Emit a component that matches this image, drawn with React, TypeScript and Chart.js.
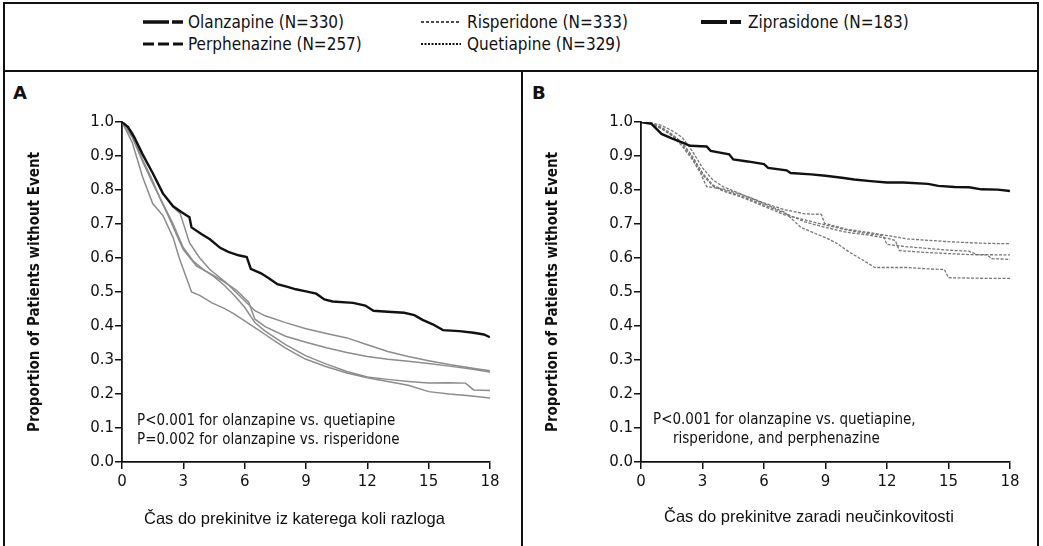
import React, { useEffect, useRef } from "react";
import { Chart, registerables } from "chart.js";

Chart.register(...registerables);

// ---------- ticks ----------
const X_TICKS = [0, 3, 6, 9, 12, 15, 18];
const X_TICK_LABELS = ["0", "3", "6", "9", "12", "15", "18"];
const Y_TICKS = [0, 0.1, 0.2, 0.3, 0.4, 0.5, 0.6, 0.7, 0.8, 0.9, 1.0];
const Y_TICK_LABELS = ["0.0", "0.1", "0.2", "0.3", "0.4", "0.5", "0.6", "0.7", "0.8", "0.9", "1.0"];

// ---------- legend ----------
const LEGEND_LABELS = [
  "Olanzapine (N=330)",
  "Risperidone (N=333)",
  "Ziprasidone (N=183)",
  "Perphenazine (N=257)",
  "Quetiapine (N=329)",
];

// ---------- Panel A: time to discontinuation for any cause ----------
const olzA_t = [0, 0.3, 0.6, 1.0, 1.5, 2.0, 2.5, 2.9, 3.3, 3.4, 3.9, 4.3, 4.8, 5.2, 5.7, 6.1, 6.3, 6.8, 7.2, 7.6, 8.1, 8.5, 9.0, 9.5, 9.9, 10.3, 11.3, 11.9, 12.3, 13.0, 13.8, 14.3, 14.7, 15.2, 15.7, 16.5, 17.2, 17.7, 18.0];
const olzA_s = [1.0, 0.985, 0.955, 0.905, 0.85, 0.79, 0.752, 0.735, 0.72, 0.69, 0.67, 0.655, 0.63, 0.618, 0.608, 0.603, 0.568, 0.555, 0.54, 0.523, 0.515, 0.508, 0.502, 0.495, 0.478, 0.472, 0.468, 0.46, 0.445, 0.442, 0.439, 0.432, 0.418, 0.405, 0.388, 0.385, 0.38, 0.375, 0.367];

const risA_t = [0, 0.5, 1, 1.5, 2, 2.5, 2.85, 3.3, 3.8, 4.3, 5.1, 5.9, 6.5, 7, 8, 9, 10, 11, 12, 13, 14, 15, 16, 17, 18];
const risA_s = [1, 0.97, 0.91, 0.85, 0.79, 0.75, 0.73, 0.645, 0.6, 0.566, 0.527, 0.48, 0.445, 0.43, 0.41, 0.392, 0.378, 0.365, 0.345, 0.325, 0.31, 0.298, 0.287, 0.277, 0.268];

const perA_t = [0, 0.5, 1, 1.4, 1.9, 2.35, 2.7, 3.0, 3.65, 4.3, 5.0, 5.6, 6.2, 6.5, 7, 8, 9, 10, 11, 12, 13, 14, 15, 16, 17, 18];
const perA_s = [1, 0.96, 0.89, 0.84, 0.77, 0.713, 0.664, 0.625, 0.576, 0.555, 0.53, 0.505, 0.47, 0.42, 0.398, 0.37, 0.352, 0.336, 0.322, 0.31, 0.302, 0.296, 0.29, 0.282, 0.274, 0.265];

const zipA_t = [0, 0.5, 1, 1.5, 2, 2.5, 3, 3.5, 4, 4.5, 5, 5.5, 6, 6.5, 7, 8, 9, 10, 11, 12, 13, 14, 15, 16, 16.8, 17.2, 18];
const zipA_s = [1, 0.955, 0.885, 0.82, 0.76, 0.7, 0.63, 0.59, 0.565, 0.545, 0.52, 0.49, 0.455, 0.41, 0.385, 0.345, 0.312, 0.288, 0.266, 0.25, 0.243, 0.237, 0.232, 0.233, 0.232, 0.212, 0.21];

const queA_t = [0, 0.5, 1, 1.5, 2, 2.5, 2.8, 3.4, 3.8, 4.4, 5, 5.5, 6, 6.5, 7, 7.5, 8, 8.5, 9, 10, 11, 12, 13, 14, 15, 16, 17, 18];
const queA_s = [1, 0.94, 0.84, 0.76, 0.725, 0.66, 0.6, 0.5, 0.49, 0.468, 0.452, 0.435, 0.415, 0.395, 0.375, 0.355, 0.335, 0.318, 0.302, 0.28, 0.262, 0.248, 0.237, 0.226, 0.207, 0.2, 0.195, 0.188];

// ---------- Panel B: time to discontinuation for lack of efficacy ----------
const olzB_t = [0, 0.5, 1.0, 1.5, 2.0, 2.4, 3.2, 3.4, 4.3, 4.5, 5.2, 6.0, 6.2, 7.1, 7.3, 8.3, 9.0, 9.8, 10.4, 11.2, 12.0, 12.8, 14.0, 14.5, 15.3, 16.0, 16.6, 17.4, 18.0];
const olzB_s = [1.0, 0.995, 0.965, 0.952, 0.94, 0.93, 0.928, 0.915, 0.905, 0.89, 0.884, 0.876, 0.865, 0.858, 0.85, 0.846, 0.842, 0.836, 0.831, 0.826, 0.822, 0.822, 0.818, 0.812, 0.809, 0.808, 0.802, 0.801, 0.797];

const zipB_t = [0, 0.5, 1, 1.5, 2, 2.5, 3, 3.5, 4, 5, 6, 7, 8, 8.8, 8.95, 10, 11, 12, 12.5, 13, 14, 15, 16, 17, 18];
const zipB_s = [1, 0.998, 0.99, 0.975, 0.955, 0.915, 0.865, 0.83, 0.81, 0.785, 0.762, 0.742, 0.73, 0.728, 0.702, 0.685, 0.676, 0.666, 0.661, 0.656, 0.652, 0.648, 0.645, 0.643, 0.642];

const perB_t = [0, 0.5, 1, 1.5, 2, 2.5, 3, 3.5, 4, 5, 6, 7, 8, 9, 10, 11, 11.8, 12.0, 13, 14, 15, 16, 16.4, 18];
const perB_s = [1, 0.995, 0.982, 0.962, 0.935, 0.895, 0.845, 0.812, 0.797, 0.777, 0.752, 0.727, 0.712, 0.697, 0.683, 0.672, 0.666, 0.64, 0.633, 0.628, 0.623, 0.62, 0.61, 0.609];

const risB_t = [0, 0.5, 1, 1.5, 2, 2.5, 3, 3.5, 4, 5, 6, 7, 8, 9, 10, 11, 12, 12.4, 12.6, 13, 14, 15, 16, 16.9, 17.1, 18];
const risB_s = [1, 0.996, 0.985, 0.965, 0.94, 0.9, 0.85, 0.815, 0.8, 0.78, 0.756, 0.732, 0.706, 0.69, 0.676, 0.668, 0.658, 0.652, 0.622, 0.62, 0.616, 0.613, 0.61, 0.609, 0.598, 0.596];

const queB_t = [0, 0.5, 1, 1.5, 2, 2.5, 2.9, 3.2, 4, 5, 6, 7, 7.8, 8.5, 9, 9.5, 10.2, 10.8, 11.4, 12, 13, 14, 14.8, 15.0, 16, 17, 18];
const queB_s = [1, 0.995, 0.98, 0.96, 0.93, 0.89, 0.85, 0.81, 0.803, 0.785, 0.76, 0.735, 0.69, 0.672, 0.66, 0.645, 0.616, 0.595, 0.572, 0.572, 0.572, 0.568, 0.566, 0.542, 0.541, 0.54, 0.54];

const Y_TITLE = "Proportion of Patients without Event";

const INK = "#111";
const COND = '"DejaVu Sans Condensed", "DejaVu Sans", sans-serif';

type Series = { t: number[]; s: number[]; kind: "olz" | "grey" };

function toPts(t: number[], s: number[]) {
  return t.map((x, i) => ({ x, y: s[i] }));
}

function KMPanel(props: {
  left: number;
  width: number;
  padLeft: number;
  padRight: number;
  axisX: number;
  series: Series[];
  greyColor: string;
  greyDash: number[];
  greyWidth: number;
}) {
  const ref = useRef<HTMLCanvasElement | null>(null);
  useEffect(() => {
    const canvas = ref.current;
    if (!canvas) return;
    const tickFont = { family: '"DejaVu Sans", sans-serif', size: 15 };
    const chart = new Chart(canvas, {
      type: "line",
      data: {
        datasets: props.series.map((sr) => ({
          data: toPts(sr.t, sr.s),
          borderColor: sr.kind === "olz" ? INK : props.greyColor,
          borderWidth: sr.kind === "olz" ? 2.4 : props.greyWidth,
          borderDash: sr.kind === "olz" ? [] : props.greyDash,
          pointRadius: 0,
          tension: 0,
          fill: false,
        })),
      },
      options: {
        responsive: false,
        animation: false,
        devicePixelRatio: 1,
        layout: { padding: { top: 122, left: props.padLeft, right: props.padRight, bottom: 44 } },
        plugins: { legend: { display: false }, tooltip: { enabled: false }, title: { display: false } },
        scales: {
          x: {
            type: "linear",
            min: 0,
            max: 18,
            afterBuildTicks: (s: any) => {
              s.ticks = X_TICKS.map((v) => ({ value: v }));
            },
            ticks: {
              autoSkip: false,
              maxRotation: 0,
              padding: 4,
              color: INK,
              font: tickFont,
              callback: (_v: any, i: number) => X_TICK_LABELS[i],
            },
            grid: { drawOnChartArea: false, drawTicks: true, tickLength: 7, color: INK, lineWidth: 1.5 },
            border: { display: true, color: INK, width: 1.8 },
            afterFit: (s: any) => {
              s.height = 40;
            },
          },
          y: {
            type: "linear",
            min: 0,
            max: 1,
            afterBuildTicks: (s: any) => {
              s.ticks = Y_TICKS.map((v) => ({ value: v }));
            },
            ticks: {
              autoSkip: false,
              padding: 1,
              color: INK,
              font: tickFont,
              callback: (_v: any, i: number) => Y_TICK_LABELS[i],
            },
            grid: { drawOnChartArea: false, drawTicks: true, tickLength: 7, color: INK, lineWidth: 1.5 },
            border: { display: true, color: INK, width: 1.8 },
            title: {
              display: true,
              text: Y_TITLE,
              color: INK,
              font: { family: COND, size: 15, weight: "bold" },
              padding: { top: 6, bottom: 0 },
            },
            afterFit: (s: any) => {
              s.width = props.axisX - props.padLeft;
            },
          },
        },
      } as any,
    });
    return () => chart.destroy();
  }, []);
  return (
    <canvas
      ref={ref}
      width={props.width}
      height={546}
      style={{ position: "absolute", left: props.left, top: 0, width: props.width, height: 546 }}
    />
  );
}

function Legend() {
  const samples = [
    { x: 143, y: 22, w: 3.6, dash: "26 3 11" },
    { x: 421, y: 22, w: 1.6, dash: "3 2" },
    { x: 701, y: 22, w: 3.8, dash: "26 3 11" },
    { x: 143, y: 44, w: 2.8, dash: "11 4" },
    { x: 421, y: 44, w: 2.0, dash: "2 1.5" },
  ];
  const textX = [188, 467, 748, 188, 467];
  return (
    <svg width={1043} height={70} style={{ position: "absolute", left: 0, top: 0 }}>
      {samples.map((s, i) => (
        <line
          key={"l" + i}
          x1={s.x}
          x2={s.x + 40}
          y1={s.y}
          y2={s.y}
          stroke={INK}
          strokeWidth={s.w}
          strokeDasharray={s.dash || undefined}
        />
      ))}
      {LEGEND_LABELS.map((t, i) => (
        <text
          key={"t" + i}
          x={textX[i]}
          y={samples[i].y + 6}
          fontFamily={COND}
          fontSize={17}
          fill={INK}
        >
          {t}
        </text>
      ))}
    </svg>
  );
}

export default function App() {
  const abs = (o: React.CSSProperties): React.CSSProperties => ({ position: "absolute", ...o });
  const annot: React.CSSProperties = {
    position: "absolute",
    fontFamily: COND,
    fontSize: 15,
    lineHeight: "19px",
    color: INK,
    whiteSpace: "nowrap",
  };
  const xTitle: React.CSSProperties = {
    position: "absolute",
    fontFamily: '"Liberation Sans", Arial, sans-serif',
    fontSize: 16.5,
    lineHeight: "20px",
    color: INK,
    whiteSpace: "nowrap",
  };
  const panelLetter: React.CSSProperties = {
    position: "absolute",
    fontFamily: '"DejaVu Sans", sans-serif',
    fontWeight: "bold",
    fontSize: 18,
    lineHeight: "20px",
    color: INK,
  };
  return (
    <div style={abs({ left: 0, top: 0, width: 1043, height: 546, background: "#fff", overflow: "hidden" })}>
      <div
        style={abs({
          left: 3,
          top: 2,
          width: 1036,
          height: 600,
          border: "2px solid " + INK,
          borderBottom: "none",
          boxSizing: "border-box",
        })}
      />
      <div style={abs({ left: 3, top: 70, width: 1036, height: 2, background: INK })} />
      <div style={abs({ left: 521, top: 70, width: 2, height: 480, background: INK })} />
      <Legend />
      <div style={{ ...panelLetter, left: 13, top: 83 }}>A</div>
      <div style={{ ...panelLetter, left: 532, top: 83 }}>B</div>
      <KMPanel
        left={0}
        width={521}
        padLeft={20}
        padRight={31}
        axisX={122}
        greyColor="#8c8c8c"
        greyDash={[]}
        greyWidth={1.5}
        series={[
          { t: olzA_t, s: olzA_s, kind: "olz" },
          { t: risA_t, s: risA_s, kind: "grey" },
          { t: perA_t, s: perA_s, kind: "grey" },
          { t: zipA_t, s: zipA_s, kind: "grey" },
          { t: queA_t, s: queA_s, kind: "grey" },
        ]}
      />
      <KMPanel
        left={523}
        width={520}
        padLeft={15}
        padRight={33}
        axisX={118}
        greyColor="#767676"
        greyDash={[3, 1.5]}
        greyWidth={1.3}
        series={[
          { t: olzB_t, s: olzB_s, kind: "olz" },
          { t: zipB_t, s: zipB_s, kind: "grey" },
          { t: perB_t, s: perB_s, kind: "grey" },
          { t: risB_t, s: risB_s, kind: "grey" },
          { t: queB_t, s: queB_s, kind: "grey" },
        ]}
      />
      <div style={{ ...annot, left: 137, top: 411 }}>
        P&lt;0.001 for olanzapine vs. quetiapine
        <br />
        P=0.002 for olanzapine vs. risperidone
      </div>
      <div style={{ ...annot, left: 653, top: 410 }}>
        P&lt;0.001 for olanzapine vs. quetiapine,
        <br />
        <span style={{ paddingLeft: 20 }}>risperidone, and perphenazine</span>
      </div>
      <div style={{ ...xTitle, left: 144, top: 508 }}>Čas do prekinitve iz katerega koli razloga</div>
      <div style={{ ...xTitle, left: 664, top: 506 }}>Čas do prekinitve zaradi neučinkovitosti</div>
    </div>
  );
}
